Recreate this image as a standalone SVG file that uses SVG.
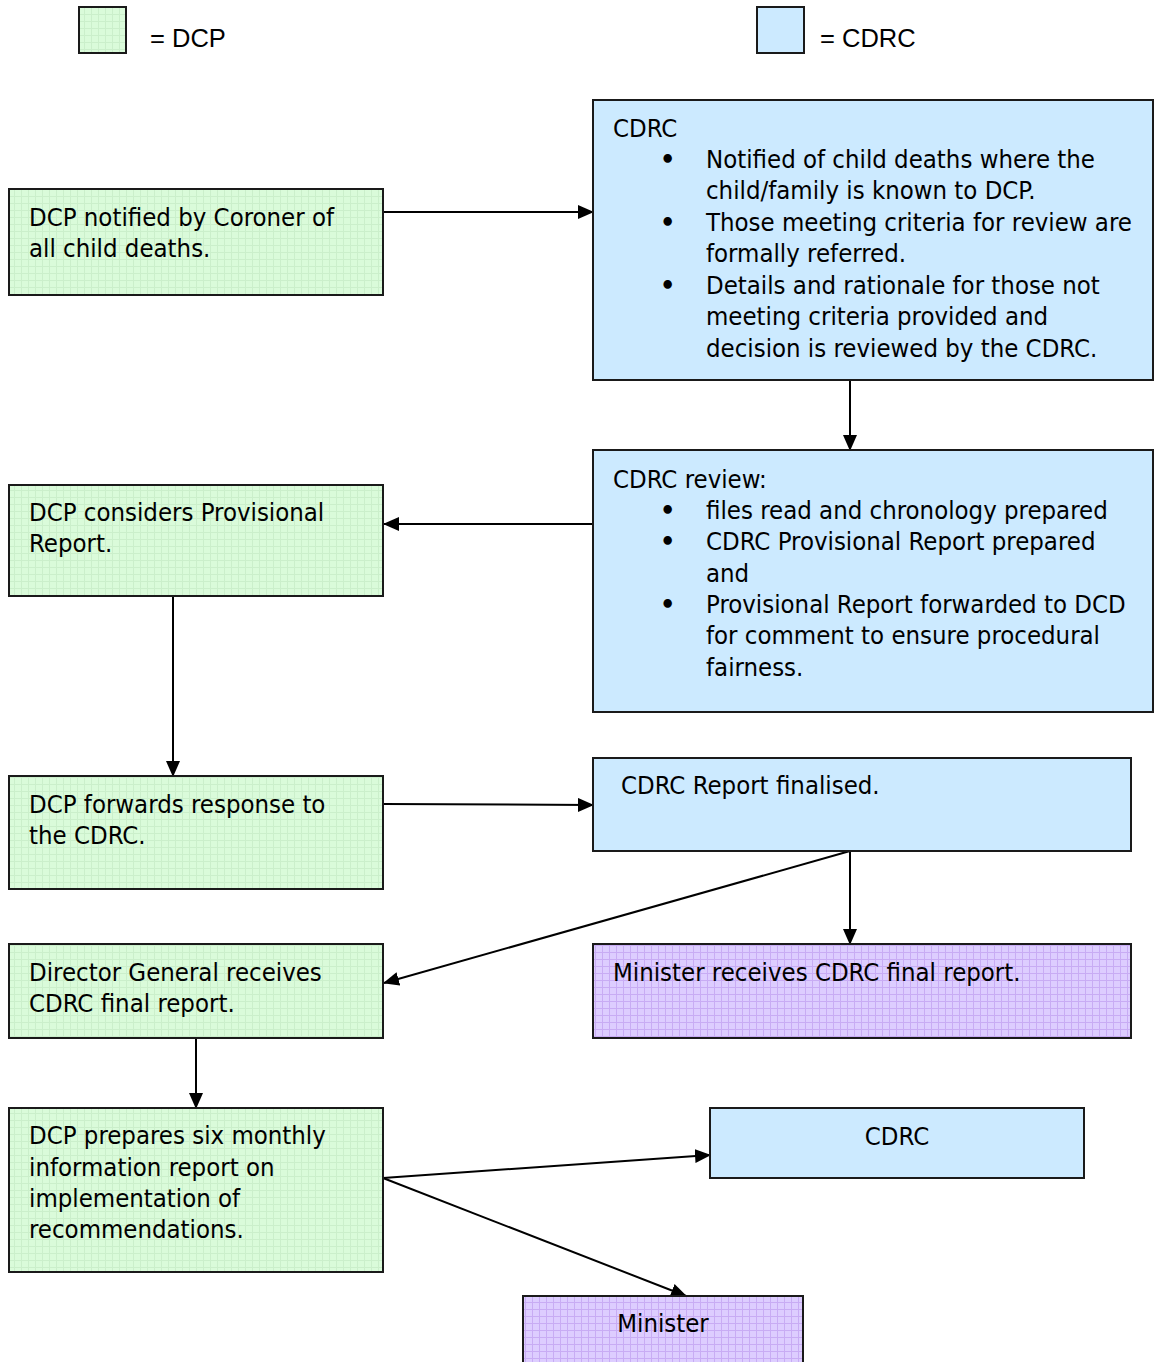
<svg xmlns="http://www.w3.org/2000/svg" width="1154" height="1362" viewBox="0 0 1154 1362">
<style>
.box{stroke:#1a1a1a;stroke-width:2}
.g{fill:url(#pg)}
.b{fill:#cceaff}
.p{fill:url(#pp)}
.t{font-family:"DejaVu Sans Condensed","DejaVu Sans",sans-serif;font-size:25.5px;fill:#000}
.bu{font-family:"DejaVu Sans",sans-serif;font-size:24px;font-weight:bold;fill:#000}
.lg{font-family:"Liberation Sans",Arial,sans-serif;font-size:25.5px;fill:#000}
.c{stroke:#000;stroke-width:2;fill:none;marker-end:url(#ah)}
</style>
<defs>
<pattern id="pg" width="7" height="7" patternUnits="userSpaceOnUse">
<rect width="7" height="7" fill="#dafbda"/>
<path d="M0 0.5H7M0.5 0V7" stroke="#cbefcb" stroke-width="1"/>
</pattern>
<pattern id="pp" width="7" height="7" patternUnits="userSpaceOnUse">
<rect width="7" height="7" fill="#ddcdff"/>
<path d="M0 0.5H7M0.5 0V7" stroke="#c8acf4" stroke-width="1"/>
</pattern>
<marker id="ah" markerWidth="16" markerHeight="14" refX="15" refY="7" orient="auto" markerUnits="userSpaceOnUse">
<path d="M0 0L16 7L0 14Z" fill="#000"/>
</marker>
</defs>

<g id="legend">
<rect class="box g" x="79" y="7" width="47" height="46"/>
<text class="lg" x="150" y="47">= DCP</text>
<rect class="box b" x="757" y="7" width="47" height="46"/>
<text class="lg" x="820" y="47">= CDRC</text>
</g>

<g id="connectors">
<line class="c" x1="383" y1="212" x2="593" y2="212"/>
<line class="c" x1="850" y1="381" x2="850" y2="450"/>
<line class="c" x1="593" y1="524" x2="384" y2="524"/>
<line class="c" x1="173" y1="591" x2="173" y2="776"/>
<line class="c" x1="383" y1="804" x2="593" y2="805"/>
<line class="c" x1="850" y1="851" x2="850" y2="944"/>
<line class="c" x1="850" y1="851" x2="384" y2="983"/>
<line class="c" x1="196" y1="1038" x2="196" y2="1108"/>
<line class="c" x1="383" y1="1178" x2="710" y2="1155"/>
<line class="c" x1="383" y1="1178" x2="686" y2="1296"/>
</g>

<g id="n1">
<rect class="box g" x="9" y="189" width="374" height="106"/>
<text class="t" x="29" y="226">DCP notified by Coroner of</text>
<text class="t" x="29" y="257">all child deaths.</text>
</g>

<g id="n2">
<rect class="box b" x="593" y="100" width="560" height="280"/>
<text class="t" x="613" y="137">CDRC</text>
<text class="bu" x="660" y="168">•</text>
<text class="t" x="706" y="168">Notified of child deaths where the</text>
<text class="t" x="706" y="199">child/family is known to DCP.</text>
<text class="bu" x="660" y="231">•</text>
<text class="t" x="706" y="231">Those meeting criteria for review are</text>
<text class="t" x="706" y="262">formally referred.</text>
<text class="bu" x="660" y="294">•</text>
<text class="t" x="706" y="294">Details and rationale for those not</text>
<text class="t" x="706" y="325">meeting criteria provided and</text>
<text class="t" x="706" y="357">decision is reviewed by the CDRC.</text>
</g>

<g id="n3">
<rect class="box b" x="593" y="450" width="560" height="262"/>
<text class="t" x="613" y="488">CDRC review:</text>
<text class="bu" x="660" y="519">•</text>
<text class="t" x="706" y="519">files read and chronology prepared</text>
<text class="bu" x="660" y="550">•</text>
<text class="t" x="706" y="550">CDRC Provisional Report prepared</text>
<text class="t" x="706" y="582">and</text>
<text class="bu" x="660" y="613">•</text>
<text class="t" x="706" y="613">Provisional Report forwarded to DCD</text>
<text class="t" x="706" y="644">for comment to ensure procedural</text>
<text class="t" x="706" y="676">fairness.</text>
</g>

<g id="n4">
<rect class="box g" x="9" y="485" width="374" height="111"/>
<text class="t" x="29" y="521">DCP considers Provisional</text>
<text class="t" x="29" y="552">Report.</text>
</g>

<g id="n5">
<rect class="box g" x="9" y="776" width="374" height="113"/>
<text class="t" x="29" y="813">DCP forwards response to</text>
<text class="t" x="29" y="844">the CDRC.</text>
</g>

<g id="n6">
<rect class="box b" x="593" y="758" width="538" height="93"/>
<text class="t" x="621" y="794">CDRC Report finalised.</text>
</g>

<g id="n7">
<rect class="box g" x="9" y="944" width="374" height="94"/>
<text class="t" x="29" y="981">Director General receives</text>
<text class="t" x="29" y="1012">CDRC final report.</text>
</g>

<g id="n8">
<rect class="box p" x="593" y="944" width="538" height="94"/>
<text class="t" x="613" y="981">Minister receives CDRC final report.</text>
</g>

<g id="n9">
<rect class="box g" x="9" y="1108" width="374" height="164"/>
<text class="t" x="29" y="1144">DCP prepares six monthly</text>
<text class="t" x="29" y="1176">information report on</text>
<text class="t" x="29" y="1207">implementation of</text>
<text class="t" x="29" y="1238">recommendations.</text>
</g>

<g id="n10">
<rect class="box b" x="710" y="1108" width="374" height="70"/>
<text class="t" x="897" y="1145" text-anchor="middle">CDRC</text>
</g>

<g id="n11">
<rect class="box p" x="523" y="1296" width="280" height="80"/>
<text class="t" x="663" y="1332" text-anchor="middle">Minister</text>
</g>
</svg>
